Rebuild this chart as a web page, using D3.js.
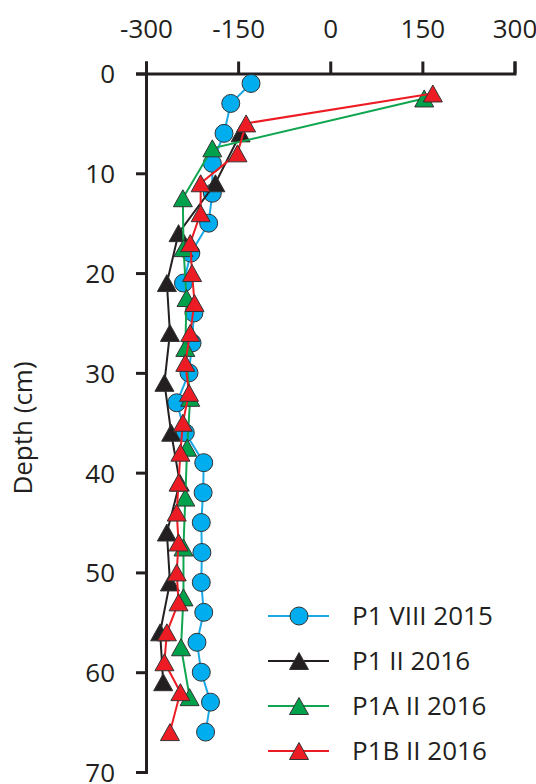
<!DOCTYPE html>
<html>
<head>
<meta charset="utf-8">
<script src="https://cdn.jsdelivr.net/npm/d3@7"></script>
<style>
  body { margin: 0; background: #fff; }
  text { font-family: "Open Sans", sans-serif; fill: #231f20; }
</style>
</head>
<body>
<script>
// data
var seriesNames = ["P1 VIII 2015", "P1 II 2016", "P1A II 2016", "P1B II 2016"];

var depthP1VIII = [1, 3, 6, 9, 12, 15, 18, 21, 24, 27, 30, 33, 36, 39, 42, 45, 48, 51, 54, 57, 60, 63, 66];
var valueP1VIII = [-129, -162, -173, -192, -192, -198, -227, -239, -222, -225, -230, -250, -236, -206, -207, -210, -209, -210, -206, -217, -210, -195, -203];

var depthP1II = [6, 11, 16, 21, 26, 31, 36, 41, 46, 51, 56, 61];
var valueP1II = [-146, -187, -247, -266, -261, -270, -259, -245, -266, -261, -277, -272];

var depthP1AII = [2.5, 7.5, 12.5, 17.5, 22.5, 27.5, 32.5, 37.5, 42.5, 47.5, 52.5, 57.5, 62.5];
var valueP1AII = [153, -192, -240, -239, -234, -236, -228, -233, -236, -239, -239, -243, -229];

var depthP1BII = [2, 5, 8, 11, 14, 17, 20, 23, 26, 29, 32, 35, 38, 41, 44, 47, 50, 53, 56, 59, 62, 66];
var valueP1BII = [167, -137, -151, -211, -211, -228, -225, -221, -228, -236, -230, -240, -244, -247, -250, -247, -250, -247, -266, -270, -244, -261];

var xTicks = [-300, -150, 0, 150, 300];
var yTicks = [0, 10, 20, 30, 40, 50, 60, 70];

var width = 536;
var height = 784;

var series = [
  {name: seriesNames[0], depth: depthP1VIII, value: valueP1VIII, line: "#1ba9e6", fill: "#00aeef", shape: "circle"},
  {name: seriesNames[1], depth: depthP1II, value: valueP1II, line: "#231f20", fill: "#231f20", shape: "triangle"},
  {name: seriesNames[2], depth: depthP1AII, value: valueP1AII, line: "#10a54f", fill: "#00a14b", shape: "triangle"},
  {name: seriesNames[3], depth: depthP1BII, value: valueP1BII, line: "#ed1c24", fill: "#ed1c24", shape: "triangle"}
];

var x = d3.scaleLinear().domain([-300, 300]).range([146, 514.5]);
var y = d3.scaleLinear().domain([0, 70]).range([73.5, 772]);

var svg = d3.select("body")
            .append("svg")
            .attr("width", width)
            .attr("height", height);

// axes (plain hyphen for negatives, like the original)
var xAxis = d3.axisTop(x).tickValues(xTicks).tickSize(12).tickFormat(function(d){ return String(d); });
var yAxis = d3.axisLeft(y).tickValues(yTicks).tickSize(10).tickPadding(21);

var gx = svg.append("g")
    .attr("transform", "translate(0," + y(0) + ")")
    .call(xAxis);
gx.selectAll("text").attr("y", -36).attr("dy", 0).style("font-size", "26px").style("font-family", "'Open Sans', sans-serif").attr("fill", "#231f20");

var gy = svg.append("g")
    .attr("transform", "translate(" + x(-300) + ",0)")
    .call(yAxis);
gy.selectAll("text").attr("dy", "0.36em").style("font-size", "26px").style("font-family", "'Open Sans', sans-serif").attr("fill", "#231f20");

svg.selectAll(".domain, .tick line")
    .attr("stroke", "#231f20")
    .attr("stroke-width", 3);

svg.append("text")
    .attr("transform", "translate(32,428) rotate(-90)")
    .attr("text-anchor", "middle")
    .style("font-size", "26px")
    .text("Depth (cm)");

// markers
function triangle(cx, cy) {
  var w = 19, h = 17;
  return "M" + cx + "," + (cy - h / 2) + "L" + (cx + w / 2) + "," + (cy + h / 2) + "L" + (cx - w / 2) + "," + (cy + h / 2) + "Z";
}

function drawMarker(g, s, cx, cy) {
  if (s.shape == "circle") {
    g.append("circle")
      .attr("cx", cx).attr("cy", cy).attr("r", 9)
      .attr("fill", s.fill).attr("stroke", "#333").attr("stroke-width", 1);
  } else {
    g.append("path")
      .attr("d", triangle(cx, cy))
      .attr("fill", s.fill).attr("stroke", "#333").attr("stroke-width", 1);
  }
}

var line = d3.line()
    .x(function(d){ return x(d[1]); })
    .y(function(d){ return y(d[0]); });

series.forEach(function(s) {
  var pts = s.depth.map(function(d, i){ return [d, s.value[i]]; });
  var g = svg.append("g");
  g.append("path")
    .attr("d", line(pts))
    .attr("fill", "none")
    .attr("stroke", s.line)
    .attr("stroke-width", 2);
  pts.forEach(function(p) {
    drawMarker(g, s, x(p[1]), y(p[0]));
  });
});

// legend
var legend = svg.append("g");
series.forEach(function(s, i) {
  var ly = 616 + i * 45;
  legend.append("line")
    .attr("x1", 268).attr("x2", 329)
    .attr("y1", ly).attr("y2", ly)
    .attr("stroke", s.line).attr("stroke-width", 2);
  drawMarker(legend, s, 299, ly);
  legend.append("text")
    .attr("x", 352).attr("y", ly)
    .attr("dy", "0.36em")
    .style("font-size", "26px")
    .text(s.name);
});
</script>
</body>
</html>
